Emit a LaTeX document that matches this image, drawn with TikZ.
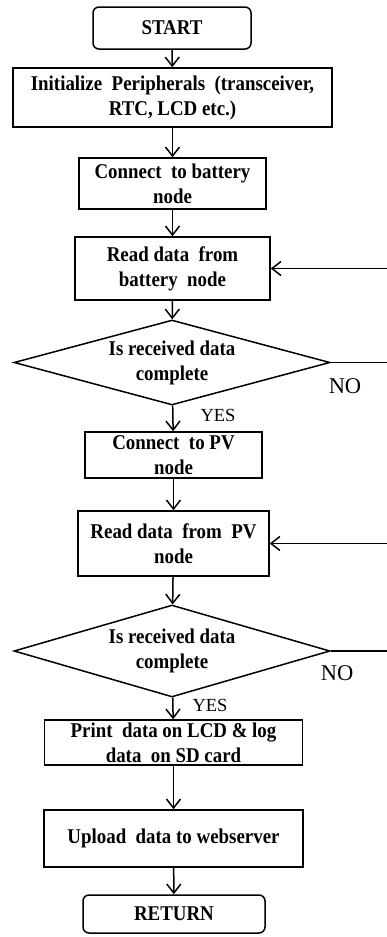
\documentclass[tikz,border=0pt]{standalone}
\usepackage{fontspec}
\setmainfont{Liberation Serif}
\newfontfamily\boxfont[FakeStretch=0.9]{Liberation Serif Bold}
\usetikzlibrary{shapes.geometric,arrows.meta}
\begin{document}
\begin{tikzpicture}[x=1pt,y=-1pt,
  every node/.style={font=\boxfont\fontsize{21}{25}\selectfont, align=center, inner sep=0pt, line width=1.5pt},
  proc/.style={draw, rectangle},
  term/.style={draw, rectangle, rounded corners=6pt},
  decide/.style={draw, diamond, inner sep=0pt, shape aspect=3.7},
  yeslbl/.style={font=\fontsize{18.5}{20}\selectfont\mdseries},
  nolbl/.style={font=\fontsize{22.5}{24}\selectfont\mdseries},
  flow/.style={line width=1.5pt, -{Straight Barb[length=9pt,width=14pt,line width=1.5pt]}},
  plain/.style={line width=1.5pt}
]
\useasboundingbox (0,0) rectangle (387,937);
\node[term, minimum width=158pt, minimum height=42pt] (start) at (172,28) {START};
\node[proc, minimum width=319pt, minimum height=59pt] (init) at (172.5,97.5) {Initialize\ \ Peripherals\ \ (transceiver,\\RTC, LCD etc.)};
\node[proc, minimum width=187pt, minimum height=51pt] (cb) at (172.5,183.5) {Connect\ \ to battery\\node};
\node[proc, minimum width=195pt, minimum height=63pt] (rb) at (172.5,268.5) {Read data\ \ from\\battery\ \ node};
\node[decide, minimum width=316pt, minimum height=85pt] (d1) at (172,362.5) {Is received data\\complete};
\node[proc, minimum width=177pt, minimum height=46pt] (cp) at (173.5,455) {Connect\ \ to PV\\node};
\node[proc, minimum width=191pt, minimum height=65pt] (rp) at (173.5,543.5) {Read data\ \ from\ \ PV\\node};
\node[decide, minimum width=316pt, minimum height=92pt] (d2) at (172,651) {Is received data\\complete};
\node[proc, minimum width=258pt, minimum height=45pt] (pr) at (173.5,742.5) {Print\ \ data on LCD \& log\\data\ \ on SD card};
\node[proc, minimum width=259pt, minimum height=57pt] (up) at (173.5,838.5) {Upload\ \ data to webserver};
\node[term, minimum width=182pt, minimum height=38pt] (ret) at (174,914) {RETURN};

\node[nolbl] (no1) at (345,386) {NO};
\node[yeslbl] (yes1) at (218,415) {YES};
\node[nolbl] (no2) at (337,673) {NO};
\node[yeslbl] (yes2) at (210,705) {YES};

\coordinate (r1) at (387,362.5);
\coordinate (r1b) at (387,268.5);
\coordinate (r2) at (387,651);
\coordinate (r2b) at (387,543.5);

\draw[flow] (start) -- (init);
\draw[flow] (init) -- (cb);
\draw[flow] (cb) -- (rb);
\draw[flow] (rb) -- (d1);
\draw[flow] (d1) -- (cp);
\draw[flow] (cp) -- (rp);
\draw[flow] (rp) -- (d2);
\draw[flow] (d2) -- (pr);
\draw[flow] (pr) -- (up);
\draw[flow] (up) -- (ret);
\draw[plain] (d1.east) -- (r1);
\draw[flow] (r1b) -- (rb.east);
\draw[plain] (d2.east) -- (r2);
\draw[flow] (r2b) -- (rp.east);
\end{tikzpicture}
\end{document}
